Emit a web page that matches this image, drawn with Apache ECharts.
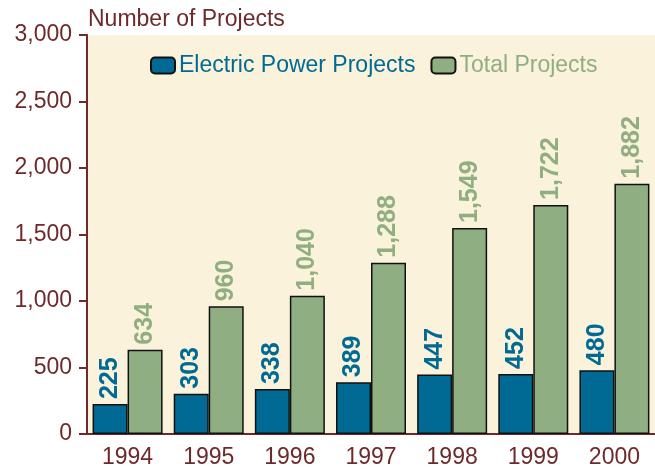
<!DOCTYPE html>
<html>
<head>
<meta charset="utf-8">
<script src="https://cdn.jsdelivr.net/npm/echarts@6/dist/echarts.min.js"></script>
<style>
  html, body { margin: 0; padding: 0; background: #ffffff; }
  #chart { width: 655px; height: 471px; }
</style>
</head>
<body>
<div id="chart"></div>
<script>
// data
var years = ['1994', '1995', '1996', '1997', '1998', '1999', '2000'];
var electricPower = [225, 303, 338, 389, 447, 452, 480];
var totalProjects = [634, 960, 1040, 1288, 1549, 1722, 1882];

var axisColor = '#6e2a2a';
var blue = '#006a94';
var green = '#8faf82';

var myChart = echarts.init(document.getElementById('chart'));

function labelStyle (color) {
  return {
    show: true,
    position: 'top',
    rotate: 90,
    align: 'left',
    verticalAlign: 'middle',
    distance: 5,
    color: color,
    fontFamily: 'Liberation Sans',
    fontWeight: 'bold',
    fontSize: 25,
    formatter: function (p) {
      return p.value.toLocaleString('en-US');
    }
  };
}

myChart.setOption({
  animation: false,
  title: {
    text: 'Number of Projects',
    left: 83,
    top: 3,
    textStyle: {
      color: axisColor,
      fontFamily: 'Liberation Sans',
      fontWeight: 'normal',
      fontSize: 23
    }
  },
  legend: {
    top: 49,
    left: 145,
    itemWidth: 24,
    itemHeight: 16,
    itemGap: 15,
    textStyle: {
      fontFamily: 'Liberation Sans',
      fontSize: 23,
      padding: [0, 0, 0, -1]
    },
    data: [
      { name: 'Electric Power Projects', textStyle: { color: blue } },
      { name: 'Total Projects', textStyle: { color: green } }
    ]
  },
  grid: {
    left: 87,
    right: -6,
    top: 35,
    bottom: 37,
    show: true,
    backgroundColor: '#faf2da',
    borderWidth: 0
  },
  xAxis: {
    type: 'category',
    data: years,
    axisLine: { lineStyle: { color: axisColor, width: 2 } },
    axisTick: { show: false },
    axisLabel: {
      color: axisColor,
      fontFamily: 'Liberation Sans',
      fontSize: 23,
      margin: 12
    }
  },
  yAxis: {
    type: 'value',
    min: 0,
    max: 3000,
    interval: 500,
    axisLine: { show: true, lineStyle: { color: axisColor, width: 2 } },
    axisTick: { show: true, length: 8, lineStyle: { color: axisColor, width: 2 } },
    splitLine: { show: false },
    axisLabel: {
      color: axisColor,
      fontFamily: 'Liberation Sans',
      fontSize: 23,
      margin: 15,
      formatter: function (v) { return v.toLocaleString('en-US'); }
    }
  },
  series: [
    {
      name: 'Electric Power Projects',
      type: 'bar',
      data: electricPower,
      barWidth: 35,
      barGap: '0%',
      itemStyle: { color: blue, borderColor: '#111', borderWidth: 1.5 },
      label: labelStyle(blue)
    },
    {
      name: 'Total Projects',
      type: 'bar',
      data: totalProjects,
      barWidth: 35,
      itemStyle: { color: green, borderColor: '#111', borderWidth: 1.5 },
      label: labelStyle(green)
    }
  ]
});
</script>
</body>
</html>
